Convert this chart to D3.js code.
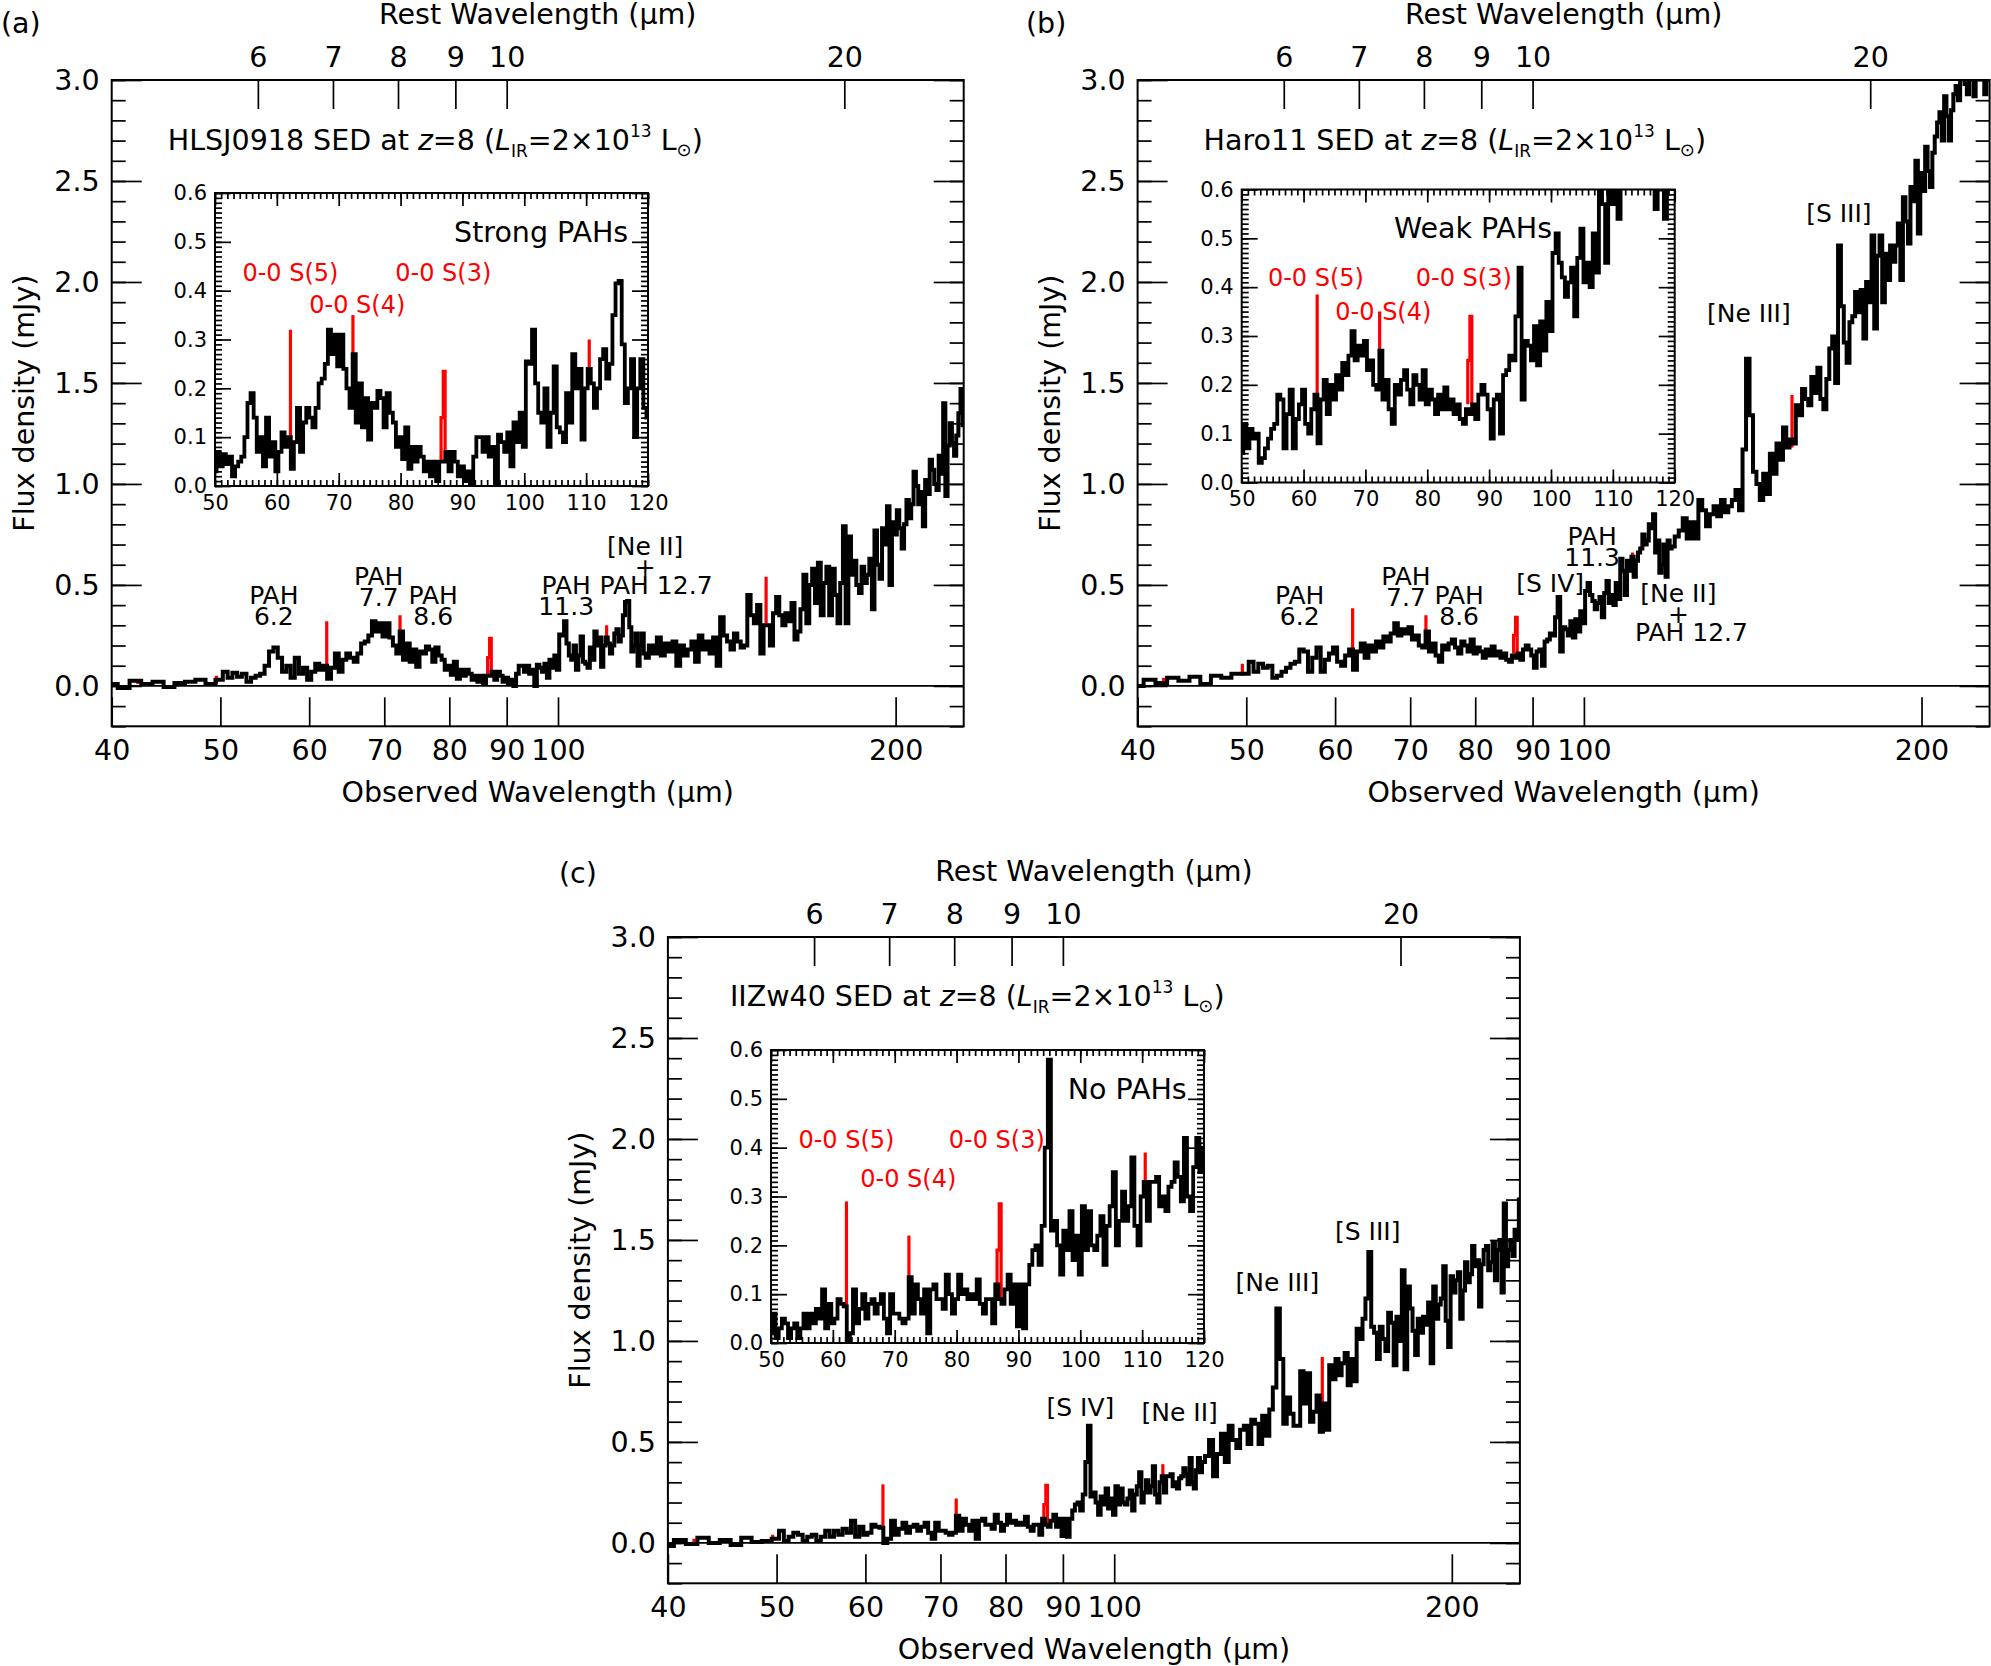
<!DOCTYPE html>
<html>
<head>
<meta charset="utf-8">
<script src="https://cdn.jsdelivr.net/npm/d3@7"></script>
<style>
  body { margin: 0; background: #fff; }
  text { font-family: "DejaVu Sans", sans-serif; }
</style>
</head>
<body>
<div id="chart"></div>
<script>
// observed wavelength grid (micron), shared by the three spectra
const wave = [
  40, 41, 42, 43, 44, 45, 46, 47, 48, 49,
  50, 50.5, 51, 51.5, 52, 52.5, 53, 53.5, 54, 54.5,
  55, 55.5, 56, 56.5, 57, 57.5, 58, 58.5, 59, 59.5,
  60, 60.5, 61, 61.5, 62, 62.5, 63, 63.5, 64, 64.5,
  65, 65.5, 66, 66.5, 67, 67.5, 68, 68.5, 69, 69.5,
  70, 70.5, 71, 71.5, 72, 72.5, 73, 73.5, 74, 74.5,
  75, 75.5, 76, 76.5, 77, 77.5, 78, 78.5, 79, 79.5,
  80, 80.5, 81, 81.5, 82, 82.5, 83, 83.5, 84, 84.5,
  85, 85.5, 86, 86.5, 87, 87.5, 88, 88.5, 89, 89.5,
  90, 90.5, 91, 91.5, 92, 92.5, 93, 93.5, 94, 94.5,
  95, 95.5, 96, 96.5, 97, 97.5, 98, 98.5, 99, 99.5,
  100, 100.5, 101, 101.5, 102, 102.5, 103, 103.5, 104, 104.5,
  105, 105.5, 106, 106.5, 107, 107.5, 108, 108.5, 109, 109.5,
  110, 110.5, 111, 111.5, 112, 112.5, 113, 113.5, 114, 114.5,
  115, 115.5, 116, 116.5, 117, 117.5, 118, 118.5, 119, 119.5,
  120, 121, 122, 123, 124, 125, 126, 127, 128, 129,
  130, 131, 132, 133, 134, 135, 136, 137, 138, 139,
  140, 141, 142, 143, 144, 145, 146, 147, 148, 149,
  150, 151, 152, 153, 154, 155, 156, 157, 158, 159,
  160, 161, 162, 163, 164, 165, 166, 167, 168, 169,
  170, 171, 172, 173, 174, 175, 176, 177, 178, 179,
  180, 181, 182, 183, 184, 185, 186, 187, 188, 189,
  190, 191, 192, 193, 194, 195, 196, 197, 198, 199,
  200, 201, 202, 203, 204, 205, 206, 207, 208, 209,
  210, 211, 212, 213, 214, 215, 216, 217, 218, 219,
  220, 221, 222, 223, 224, 225, 226, 227, 228, 229,
  230
];

// flux density (mJy) - HLSJ0918
const fluxA = [
  0.01, -0.01, 0.025, 0.01, 0.02, -0.005, 0.015, 0.02, 0.03, 0.01,
  0.03, 0.07, 0.04, 0.065, 0.045, 0.06, 0.02, 0.04, 0.05, 0.06,
  0.10, 0.17, 0.19, 0.14, 0.07, 0.10, 0.04, 0.14, 0.06, 0.09,
  0.03, 0.07, 0.11, 0.08, 0.10, 0.035, 0.09, 0.16, 0.07, 0.13,
  0.16, 0.14, 0.12, 0.16, 0.21, 0.22, 0.25, 0.32, 0.27, 0.31,
  0.245, 0.31, 0.24, 0.20, 0.16, 0.27, 0.13, 0.21, 0.12, 0.18,
  0.095, 0.17, 0.16, 0.195, 0.18, 0.12, 0.19, 0.15, 0.13, 0.08,
  0.10, 0.055, 0.12, 0.035, 0.08, 0.05, 0.08, 0.06, 0.03, 0.05,
  0.02, 0.05, 0.01, 0.05, 0.05, 0.07, 0.03, 0.07, 0.05, 0.02,
  0.04, 0.01, 0.03, 0.00, 0.06, 0.10, 0.10, 0.07, 0.10, 0.06,
  0.08, 0.00, 0.105, 0.09, 0.07, 0.11, 0.04, 0.13, 0.09, 0.15,
  0.08, 0.255, 0.25, 0.32, 0.21, 0.15, 0.13, 0.20, 0.08, 0.15,
  0.245, 0.12, 0.11, 0.09, 0.19, 0.13, 0.27, 0.20, 0.24, 0.095,
  0.20, 0.24, 0.21, 0.16, 0.20, 0.26, 0.28, 0.22, 0.25, 0.35,
  0.415, 0.42, 0.29, 0.17, 0.20, 0.26, 0.10, 0.20, 0.26, 0.16,
  0.14, 0.20, 0.16, 0.24, 0.15, 0.21, 0.17, 0.22, 0.10, 0.20,
  0.15, 0.18, 0.22, 0.12, 0.25, 0.18, 0.22, 0.16, 0.24, 0.10,
  0.34, 0.25, 0.22, 0.18, 0.26, 0.22, 0.19, 0.20, 0.45, 0.35,
  0.31, 0.40, 0.16, 0.30, 0.30, 0.20, 0.36, 0.44, 0.35, 0.30,
  0.36, 0.32, 0.41, 0.23, 0.27, 0.38, 0.55, 0.31, 0.50, 0.58,
  0.41, 0.61, 0.35, 0.51, 0.59, 0.35, 0.58, 0.45, 0.31, 0.51,
  0.79, 0.31, 0.74, 0.55, 0.62, 0.50, 0.46, 0.59, 0.51, 0.55,
  0.63, 0.38, 0.77, 0.60, 0.53, 0.78, 0.70, 0.89, 0.50, 0.81,
  0.75, 0.87, 0.78, 0.68, 0.80, 0.92, 0.83, 0.90, 1.06, 0.99,
  0.90, 0.96, 0.79, 1.02, 0.95, 1.12, 1.07, 1.00, 0.97, 1.14,
  1.05, 1.40, 0.94, 1.19, 1.30, 1.20, 1.14, 1.24, 1.35, 1.47,
  1.29
];

// flux density (mJy) - Haro11
const fluxB = [
  0.00, 0.03, 0.015, 0.04, 0.025, 0.045, 0.01, 0.05, 0.04, 0.06,
  0.06, 0.12, 0.07, 0.11, 0.09, 0.10, 0.04, 0.05, 0.07, 0.09,
  0.11, 0.12, 0.18, 0.17, 0.07, 0.14, 0.19, 0.07, 0.13, 0.16,
  0.19, 0.12, 0.10, 0.15, 0.18, 0.08, 0.17, 0.21, 0.14, 0.20,
  0.17, 0.22, 0.19, 0.245, 0.22, 0.26, 0.31, 0.25, 0.28, 0.26,
  0.29, 0.23, 0.25, 0.20, 0.19, 0.27, 0.17, 0.21, 0.15, 0.12,
  0.20, 0.18, 0.21, 0.23, 0.19, 0.16, 0.22, 0.20, 0.17, 0.23,
  0.16, 0.19, 0.17, 0.14, 0.18, 0.15, 0.195, 0.15, 0.17, 0.14,
  0.16, 0.13, 0.12, 0.15, 0.14, 0.16, 0.13, 0.18, 0.20, 0.18,
  0.15, 0.09, 0.17, 0.18, 0.10, 0.22, 0.23, 0.26, 0.25, 0.34,
  0.44, 0.17, 0.29, 0.28, 0.25, 0.32, 0.24, 0.33, 0.27, 0.37,
  0.31, 0.47, 0.51, 0.45, 0.42, 0.38, 0.41, 0.44, 0.34, 0.46,
  0.52, 0.41, 0.45, 0.40, 0.51, 0.43, 0.63, 0.57, 0.45, 0.62,
  0.57, 0.64, 0.54, 0.62, 0.66, 0.68, 0.75, 0.70, 0.72, 0.80,
  0.78, 0.85, 0.66, 0.72, 0.56, 0.60, 0.70, 0.54, 0.72, 0.68,
  0.69, 0.74, 0.77, 0.83, 0.73, 0.81, 0.73, 0.92, 0.87, 0.79,
  0.85, 0.89, 0.84, 0.92, 0.86, 0.89, 0.92, 0.97, 0.87, 1.17,
  1.62, 1.34, 1.06, 1.00, 0.92, 1.05, 0.95, 1.15, 1.05, 1.20,
  1.12, 1.28, 1.18, 1.22, 1.20, 1.39, 1.34, 1.47, 1.42, 1.39,
  1.53, 1.45, 1.575, 1.42, 1.37, 1.52, 1.67, 1.73, 1.50, 2.18,
  1.88, 1.70, 1.60, 1.80, 1.83, 1.95, 1.85, 1.96, 1.72, 2.00,
  1.90, 2.23, 1.77, 2.13, 2.23, 1.90, 2.14, 2.01, 2.18, 2.10,
  2.18, 2.29, 2.01, 2.42, 2.30, 2.19, 2.47, 2.40, 2.60, 2.24,
  2.54, 2.45, 2.67, 2.55, 2.47, 2.64, 2.72, 2.79, 2.84, 2.70,
  2.92, 2.82, 2.70, 2.85, 2.93, 2.97, 2.90, 3.05, 3.02, 2.98,
  2.93, 3.05, 3.02, 2.92, 3.05, 3.08, 3.04, 3.10, 2.93, 3.10,
  3.12
];

// flux density (mJy) - IIZw40
const fluxC = [
  -0.015, 0.015, -0.005, 0.025, 0.00, 0.015, -0.01, 0.025, 0.005, 0.01,
  0.02, 0.06, 0.01, 0.03, 0.05, 0.04, 0.01, 0.03, 0.04, 0.01,
  0.03, 0.06, 0.03, 0.06, 0.04, 0.07, 0.05, 0.11, 0.03, 0.08,
  0.04, 0.05, 0.09, 0.08, 0.075, 0.00, 0.02, 0.11, 0.04, 0.07,
  0.10, 0.05, 0.08, 0.09, 0.06, 0.08, 0.10, 0.05, 0.02, 0.10,
  0.06, 0.06, 0.05, 0.04, 0.05, 0.135, 0.06, 0.12, 0.09, 0.06,
  0.11, 0.02, 0.11, 0.12, 0.09, 0.09, 0.07, 0.14, 0.10, 0.06,
  0.09, 0.14, 0.10, 0.11, 0.09, 0.10, 0.09, 0.13, 0.08, 0.06,
  0.09, 0.09, 0.04, 0.12, 0.09, 0.08, 0.11, 0.14, 0.08, 0.12,
  0.034, 0.12, 0.03, 0.12, 0.16, 0.19, 0.20, 0.16, 0.24, 0.40,
  0.58, 0.23, 0.25, 0.20, 0.14, 0.23, 0.19, 0.27, 0.17, 0.22,
  0.14, 0.28, 0.19, 0.27, 0.20, 0.19, 0.22, 0.26, 0.16, 0.24,
  0.28, 0.35, 0.20, 0.25, 0.31, 0.25, 0.28, 0.38, 0.24, 0.20,
  0.30, 0.33, 0.25, 0.33, 0.33, 0.34, 0.28, 0.30, 0.27, 0.32,
  0.33, 0.37, 0.34, 0.29, 0.42, 0.30, 0.27, 0.36, 0.42, 0.35,
  0.40, 0.43, 0.51, 0.33, 0.44, 0.54, 0.40, 0.58, 0.51, 0.47,
  0.56, 0.58, 0.49, 0.61, 0.59, 0.49, 0.63, 0.53, 0.66, 0.77,
  1.16, 0.91, 0.59, 0.72, 0.64, 0.58, 0.58, 0.85, 0.69, 0.84,
  0.60, 0.65, 0.73, 0.55, 0.69, 0.56, 0.88, 0.81, 0.91, 0.83,
  0.89, 0.94, 0.78, 0.91, 0.80, 1.06, 1.01, 1.11, 1.21, 1.44,
  1.07, 1.04, 0.91, 1.07, 1.01, 0.95, 1.14, 1.09, 0.88, 1.12,
  1.00, 1.35, 0.86, 1.27, 1.16, 1.05, 0.93, 1.11, 1.04, 1.12,
  1.08, 1.19, 0.89, 1.27, 1.11, 1.18, 1.21, 1.37, 1.10, 0.97,
  1.32, 1.24, 1.30, 1.34, 1.11, 1.25, 1.39, 1.29, 1.33, 1.47,
  1.37, 1.40, 1.17, 1.38, 1.45, 1.47, 1.35, 1.39, 1.49, 1.30,
  1.45, 1.50, 1.24, 1.68, 1.37, 1.45, 1.50, 1.42, 1.55, 1.50,
  1.70
];

// H2 pure rotational lines (observed micron) and their drawn levels
const h2Wave = [42.2, 49.6, 62.2, 72.3, 86.9, 110.5, 153.3];
const h2BaseA = [0.01, 0.01, 0.09, 0.25, 0.05, 0.21, 0.30];
const h2TopA  = [0.03, 0.05, 0.32, 0.35, 0.235, 0.30, 0.54];
const h2MidA  = [null, null, null, null, 0.14, null, null];
const h2BaseB = [0.02, 0.05, 0.15, 0.27, 0.16, 0.57, 1.18];
const h2TopB  = [0.04, 0.11, 0.385, 0.35, 0.34, 0.66, 1.44];
const h2MidB  = [null, null, null, null, 0.25, null, null];
const h2BaseC = [0.00, 0.01, 0.07, 0.13, 0.09, 0.30, 0.69];
const h2TopC  = [0.02, 0.04, 0.29, 0.22, 0.285, 0.39, 0.92];
const h2MidC  = [null, null, null, null, 0.19, null, null];

const redshift = 8;
const obsTicks = [40, 50, 60, 70, 80, 90, 100, 200];
const restTicks = [6, 7, 8, 9, 10, 20];
const yTicks = [0, 0.5, 1.0, 1.5, 2.0, 2.5, 3.0];
const insetXTicks = [50, 60, 70, 80, 90, 100, 110, 120];
const insetYTicks = [0, 0.1, 0.2, 0.3, 0.4, 0.5, 0.6];

const W = 1991, H = 1666;
const FW = 852, FH = 646.3;      // main frame size
const IW = 433, IH = 293;        // inset frame size
const FS = 28.5;                 // main font size

const svg = d3.select("#chart").append("svg")
    .attr("width", W)
    .attr("height", H)
    .style("background", "#fff");

const panels = [
  {
    key: "a", tag: "(a)", tagX: 1, tagY: 33, name: "HLSJ0918",
    left: 111.7, top: 80, titleDx: 56, titleDy: 70,
    flux: fluxA, h2Base: h2BaseA, h2Top: h2TopA, h2Mid: h2MidA,
    insetLeft: 215, insetTop: 193,
    note: { text: "Strong PAHs", x: 116.8, y: 0.50, anchor: "end" },
    red: [["0-0 S(5)", 62.2, 0.42], ["0-0 S(4)", 73.0, 0.355], ["0-0 S(3)", 86.9, 0.42]],
    notes: [
      { lines: ["PAH", "6.2"], x: 55.8, y: 0.405 },
      { lines: ["PAH", "7.7"], x: 69.2, y: 0.499 },
      { lines: ["PAH", "8.6"], x: 77.4, y: 0.405 },
      { lines: ["PAH", "11.3"], x: 101.7, y: 0.455 },
      { lines: ["[Ne II]", "+"], x: 119.6, y: 0.648 },
      { lines: ["PAH 12.7"], x: 122.3, y: 0.455 }
    ]
  },
  {
    key: "b", tag: "(b)", tagX: 1026, tagY: 33, name: "Haro11",
    left: 1137.6, top: 80, titleDx: 66, titleDy: 70,
    flux: fluxB, h2Base: h2BaseB, h2Top: h2TopB, h2Mid: h2MidB,
    insetLeft: 1241.7, insetTop: 189.5,
    note: { text: "Weak PAHs", x: 87.4, y: 0.50, anchor: "middle" },
    red: [["0-0 S(5)", 62.0, 0.402], ["0-0 S(4)", 72.9, 0.332], ["0-0 S(3)", 85.9, 0.402]],
    notes: [
      { lines: ["PAH", "6.2"], x: 55.8, y: 0.405 },
      { lines: ["PAH", "7.7"], x: 69.4, y: 0.499 },
      { lines: ["PAH", "8.6"], x: 77.4, y: 0.405 },
      { lines: ["[S IV]"], x: 93.3, y: 0.465 },
      { lines: ["PAH", "11.3"], x: 101.7, y: 0.697 },
      { lines: ["[Ne II]", "+"], x: 121.4, y: 0.415 },
      { lines: ["PAH 12.7"], x: 124.7, y: 0.222 },
      { lines: ["[Ne III]"], x: 140.3, y: 1.804 },
      { lines: ["[S III]"], x: 168.8, y: 2.299 }
    ]
  },
  {
    key: "c", tag: "(c)", tagX: 559, tagY: 883, name: "IIZw40",
    left: 667.9, top: 937, titleDx: 62, titleDy: 69,
    flux: fluxC, h2Base: h2BaseC, h2Top: h2TopC, h2Mid: h2MidC,
    insetLeft: 771, insetTop: 1050,
    note: { text: "No PAHs", x: 117.2, y: 0.50, anchor: "end" },
    red: [["0-0 S(5)", 62.2, 0.40], ["0-0 S(4)", 72.2, 0.32], ["0-0 S(3)", 86.5, 0.40]],
    notes: [
      { lines: ["[S IV]"], x: 93.3, y: 0.627 },
      { lines: ["[Ne II]"], x: 114.4, y: 0.603 },
      { lines: ["[Ne III]"], x: 139.8, y: 1.245 },
      { lines: ["[S III]"], x: 168.3, y: 1.502 }
    ]
  }
];

function styleAxis(g, size) {
  g.attr("font-family", null).attr("font-size", null);
  g.select(".domain").remove();
  g.selectAll(".tick line").attr("stroke", "#000").attr("stroke-width", 1.7);
  g.selectAll(".tick text").attr("font-size", size).attr("fill", "#000");
}

function h2Path(x, y, w, base, top, mid) {
  const p = d3.path();
  if (mid == null) {
    p.moveTo(x(w), y(base));
    p.lineTo(x(w), y(top));
  } else {
    p.moveTo(x(w - 0.35), y(base));
    p.lineTo(x(w - 0.35), y(mid));
    p.lineTo(x(w), y(mid));
    p.lineTo(x(w), y(top));
    p.lineTo(x(w + 0.3), y(top));
    p.lineTo(x(w + 0.3), y(base));
  }
  return p.toString();
}

function addTitle(g, px, py, name) {
  const t = g.append("text").attr("x", px).attr("y", py).attr("font-size", FS);
  t.append("tspan").text(name + " SED at ");
  t.append("tspan").attr("font-style", "italic").text("z");
  t.append("tspan").text("=8 (");
  t.append("tspan").attr("font-style", "italic").text("L");
  t.append("tspan").attr("font-size", 17).attr("dy", 7).text("IR");
  t.append("tspan").attr("dy", -7).text("=2×10");
  t.append("tspan").attr("font-size", 17).attr("dy", -13).text("13");
  t.append("tspan").attr("dy", 13).text(" L");
  t.append("tspan").attr("font-size", 18).attr("dy", 6).text("⊙");
  t.append("tspan").attr("dy", -6).text(")");
}

function drawPanel(p) {
  const pts = wave.map((w, i) => [w, p.flux[i]]);

  // ---- main plot ----
  const g = svg.append("g").attr("transform", `translate(${p.left},${p.top})`);
  const x = d3.scaleLog().domain([40, 230]).range([0, FW]);
  const y = d3.scaleLinear().domain([-0.2, 3.0]).range([FH, 0]);

  g.append("clipPath").attr("id", "clip" + p.key)
    .append("rect").attr("width", FW).attr("height", FH);

  const minorY = d3.range(-2, 31).map(i => i / 10);
  g.append("g").call(d3.axisLeft(y).tickValues(minorY).tickSize(-14).tickFormat(""))
    .call(a => styleAxis(a, FS));
  g.append("g").attr("transform", `translate(${FW},0)`)
    .call(d3.axisRight(y).tickValues(minorY).tickSize(-14).tickFormat(""))
    .call(a => styleAxis(a, FS));
  g.append("g").call(d3.axisLeft(y).tickValues(yTicks).tickSize(-30).tickPadding(12).tickFormat(d3.format(".1f")))
    .call(a => styleAxis(a, FS));
  g.append("g").attr("transform", `translate(${FW},0)`)
    .call(d3.axisRight(y).tickValues(yTicks).tickSize(-30).tickFormat(""))
    .call(a => styleAxis(a, FS));
  g.append("g").attr("transform", `translate(0,${FH})`)
    .call(d3.axisBottom(x).tickValues(obsTicks).tickSize(-29).tickPadding(13.5).tickFormat(d3.format("d")))
    .call(a => styleAxis(a, FS));
  g.append("g")
    .call(d3.axisTop(x).tickValues(restTicks.map(r => r * (1 + redshift))).tickSize(-29).tickPadding(13)
      .tickFormat(d => d3.format("d")(d / (1 + redshift))))
    .call(a => styleAxis(a, FS));

  g.append("line")
    .attr("x1", 0).attr("x2", FW)
    .attr("y1", y(0)).attr("y2", y(0))
    .attr("stroke", "#000").attr("stroke-width", 1.8);

  const plot = g.append("g").attr("clip-path", `url(#clip${p.key})`);
  h2Wave.forEach((w, i) => {
    plot.append("path")
      .attr("d", h2Path(x, y, w, p.h2Base[i], p.h2Top[i], p.h2Mid[i]))
      .attr("fill", "none").attr("stroke", "#ff0000").attr("stroke-width", 3.2);
  });
  const line = d3.line().x(d => x(d[0])).y(d => y(d[1])).curve(d3.curveStep);
  plot.append("path").datum(pts)
    .attr("d", line)
    .attr("fill", "none").attr("stroke", "#000")
    .attr("stroke-width", 4).attr("stroke-linejoin", "miter");

  g.append("rect").attr("width", FW).attr("height", FH)
    .attr("fill", "none").attr("stroke", "#000").attr("stroke-width", 2);

  // axis titles
  g.append("text").attr("x", FW / 2).attr("y", -56).attr("text-anchor", "middle")
    .attr("font-size", FS).text("Rest Wavelength (μm)");
  g.append("text").attr("x", FW / 2).attr("y", 722).attr("text-anchor", "middle")
    .attr("font-size", FS).text("Observed Wavelength (μm)");
  g.append("text").attr("transform", `translate(-78,${FH / 2}) rotate(-90)`)
    .attr("text-anchor", "middle").attr("font-size", FS).text("Flux density (mJy)");

  addTitle(g, p.titleDx, p.titleDy, p.name);

  // line annotations
  p.notes.forEach(n => {
    const t = g.append("text")
      .attr("x", x(n.x)).attr("y", y(n.y))
      .attr("text-anchor", "middle").attr("font-size", 25);
    n.lines.forEach((s, k) => {
      t.append("tspan").attr("x", x(n.x)).attr("dy", k === 0 ? 0 : 21).text(s);
    });
  });

  svg.append("text").attr("x", p.tagX).attr("y", p.tagY)
    .attr("font-size", FS).text(p.tag);

  // ---- inset ----
  const gi = svg.append("g").attr("transform", `translate(${p.insetLeft},${p.insetTop})`);
  const xi = d3.scaleLinear().domain([50, 120]).range([0, IW]);
  const yi = d3.scaleLinear().domain([0, 0.6]).range([IH, 0]);

  gi.append("rect").attr("width", IW).attr("height", IH).attr("fill", "#fff");
  gi.append("clipPath").attr("id", "iclip" + p.key)
    .append("rect").attr("width", IW).attr("height", IH);

  const minorXi = d3.range(50, 121);
  const minorYi = d3.range(0, 61).map(i => i / 100);
  gi.append("g").attr("transform", `translate(0,${IH})`)
    .call(d3.axisBottom(xi).tickValues(minorXi).tickSize(-6).tickFormat(""))
    .call(a => styleAxis(a, 21));
  gi.append("g").call(d3.axisTop(xi).tickValues(minorXi).tickSize(-6).tickFormat(""))
    .call(a => styleAxis(a, 21));
  gi.append("g").call(d3.axisLeft(yi).tickValues(minorYi).tickSize(-7).tickFormat(""))
    .call(a => styleAxis(a, 21));
  gi.append("g").attr("transform", `translate(${IW},0)`)
    .call(d3.axisRight(yi).tickValues(minorYi).tickSize(-7).tickFormat(""))
    .call(a => styleAxis(a, 21));
  gi.append("g").attr("transform", `translate(0,${IH})`)
    .call(d3.axisBottom(xi).tickValues(insetXTicks).tickSize(-13).tickPadding(9).tickFormat(d3.format("d")))
    .call(a => styleAxis(a, 21));
  gi.append("g").call(d3.axisTop(xi).tickValues(insetXTicks).tickSize(-13).tickFormat(""))
    .call(a => styleAxis(a, 21));
  gi.append("g").call(d3.axisLeft(yi).tickValues(insetYTicks).tickSize(-16).tickPadding(8).tickFormat(d3.format(".1f")))
    .call(a => styleAxis(a, 21));
  gi.append("g").attr("transform", `translate(${IW},0)`)
    .call(d3.axisRight(yi).tickValues(insetYTicks).tickSize(-16).tickFormat(""))
    .call(a => styleAxis(a, 21));

  const iplot = gi.append("g").attr("clip-path", `url(#iclip${p.key})`);
  h2Wave.forEach((w, i) => {
    if (w < 50 || w > 120) return;
    iplot.append("path")
      .attr("d", h2Path(xi, yi, w, p.h2Base[i], p.h2Top[i], p.h2Mid[i]))
      .attr("fill", "none").attr("stroke", "#ff0000").attr("stroke-width", 3.2);
  });
  const iline = d3.line().x(d => xi(d[0])).y(d => yi(d[1])).curve(d3.curveStep);
  iplot.append("path").datum(pts.filter(d => d[0] >= 49 && d[0] <= 121))
    .attr("d", iline)
    .attr("fill", "none").attr("stroke", "#000")
    .attr("stroke-width", 3.8).attr("stroke-linejoin", "miter");

  gi.append("rect").attr("width", IW).attr("height", IH)
    .attr("fill", "none").attr("stroke", "#000").attr("stroke-width", 2);

  gi.append("text").attr("x", xi(p.note.x)).attr("y", yi(p.note.y))
    .attr("text-anchor", p.note.anchor).attr("font-size", FS).text(p.note.text);
  p.red.forEach(r => {
    gi.append("text").attr("x", xi(r[1])).attr("y", yi(r[2]))
      .attr("text-anchor", "middle").attr("font-size", 24)
      .attr("fill", "#ff0000").text(r[0]);
  });
}

panels.forEach(drawPanel);
</script>
</body>
</html>
